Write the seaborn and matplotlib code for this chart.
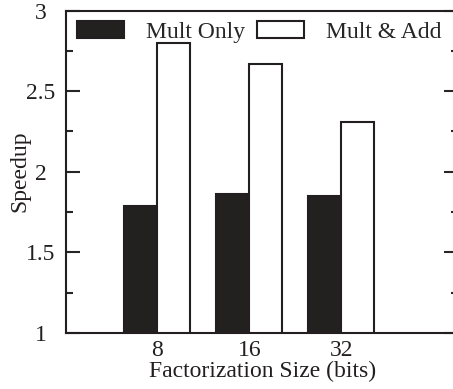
import pandas as pd
import seaborn as sns
import matplotlib.pyplot as plt
from matplotlib.ticker import MultipleLocator, AutoMinorLocator

sizes = ["8", "16", "32"]
mult_only = [1.79, 1.86, 1.85]
mult_add = [2.80, 2.67, 2.31]
series = ["Mult Only", "Mult & Add"]

df = pd.DataFrame({
    "size": sizes * 2,
    "kind": [series[0]] * 3 + [series[1]] * 3,
    "speedup": mult_only + mult_add,
})

sns.set_style("ticks")
plt.rcParams["font.family"] = ["Liberation Serif", "DejaVu Serif"]
fs = 17

fig = plt.figure(figsize=(4.53, 3.89), dpi=100)
ax = fig.add_axes([0.1457, 0.144, 0.866, 0.829])

sns.barplot(data=df, x="size", y="speedup", hue="kind", order=sizes,
            hue_order=series, palette={"Mult Only": "#231f20", "Mult & Add": "white"},
            edgecolor="#231f20", linewidth=1.5, width=0.72, ax=ax)

ax.set_ylim(1, 3)
ax.set_xlim(-0.99, 3.27)
ax.yaxis.set_major_locator(MultipleLocator(0.5))
ax.yaxis.set_minor_locator(AutoMinorLocator(2))
ax.set_yticks([1, 1.5, 2, 2.5, 3])
ax.set_yticklabels(["1", "1.5", "2", "2.5", "3"])
for lab in ax.get_yticklabels():
    lab.set_ha("center")

ax.tick_params(axis="y", which="major", direction="in", length=10, width=1.5,
               right=True, pad=18, labelsize=fs, labelcolor="#231f20")
ax.tick_params(axis="y", which="minor", direction="in", length=5, width=1.5, right=True)
ax.tick_params(axis="x", length=0, pad=5, labelsize=fs, labelcolor="#231f20")

for s in ax.spines.values():
    s.set_linewidth(1.5)
    s.set_color("#231f20")

ax.set_xlabel("Factorization Size (bits)", fontsize=fs, labelpad=0, color="#231f20")
ax.set_ylabel("Speedup", fontsize=fs, color="#231f20")
ax.yaxis.set_label_coords(-0.09, 0.5)

sns.move_legend(ax, "upper left", bbox_to_anchor=(0.028, 0.968), ncol=2,
                frameon=False, title=None, borderpad=0, borderaxespad=0,
                handlelength=2.0, handleheight=0.75, handletextpad=0.93,
                columnspacing=0.5, fontsize=fs)

fig.savefig("out.png", dpi=100)
